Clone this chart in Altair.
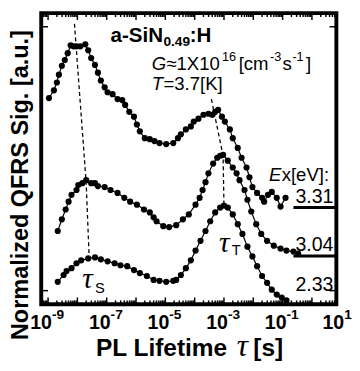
import altair as alt
import pandas as pd

# ---------------- data (log10 of lifetime [s], normalized signal, a.u.) ----------------
ex_labels = ["3.31", "3.04", "2.33"]

logtau_331 = [-8.97, -8.80, -8.70, -8.63, -8.53, -8.43, -8.33, -8.23, -8.13, -8.03, -7.90, -7.73,
              -7.63, -7.53, -7.40, -7.30, -7.20, -7.07, -6.97, -6.80, -6.63, -6.47, -6.37, -6.23,
              -6.07, -5.97, -5.87, -5.70, -5.53, -5.37, -5.20, -4.97, -4.73, -4.57, -4.47, -4.30,
              -4.13, -4.03, -3.87, -3.70, -3.53, -3.40, -3.30, -3.20, -3.07, -2.97, -2.80, -2.70,
              -2.53, -2.40, -2.23, -2.13, -2.03, -1.87, -1.70, -1.63, -1.50, -1.37, -1.20, -1.07, -0.90]
sig_331 = [211, 219, 227, 235, 244, 250, 257, 265, 264, 264, 264, 266,
           260, 252, 245, 237, 229, 222, 217, 215, 210, 209, 204, 197,
           192, 184, 177, 170, 169, 167, 165, 164, 165, 170, 174, 179,
           182, 187, 190, 194, 195, 194, 197, 199, 192, 187, 179, 170,
           160, 150, 140, 130, 120, 114, 109, 105, 112, 115, 109, 100, 109]

logtau_304 = [-8.67, -8.53, -8.40, -8.30, -8.20, -8.03, -7.97, -7.83, -7.70, -7.53, -7.40, -7.30,
              -7.07, -6.87, -6.63, -6.40, -6.20, -5.97, -5.73, -5.53, -5.40, -5.30, -5.07, -4.87,
              -4.63, -4.40, -4.20, -3.97, -3.83, -3.73, -3.63, -3.53, -3.37, -3.23, -3.13, -3.03,
              -2.87, -2.70, -2.57, -2.47, -2.30, -2.20, -2.07, -1.90, -1.73, -1.53, -1.30, -1.07,
              -0.87, -0.63, -0.47]
sig_304 = [75, 87, 97, 105, 112, 117, 122, 124, 127, 124, 124, 121,
           120, 117, 114, 109, 105, 102, 97, 94, 89, 85, 80, 79,
           81, 87, 92, 102, 109, 117, 125, 134, 144, 150, 152, 153,
           147, 140, 134, 127, 117, 107, 95, 82, 72, 65, 60, 57,
           55, 54, 52]

logtau_233 = [-8.67, -8.47, -8.37, -8.20, -8.03, -7.87, -7.63, -7.40, -7.20, -6.97, -6.73, -6.53,
              -6.30, -6.07, -5.87, -5.63, -5.40, -5.20, -4.97, -4.73, -4.63, -4.47, -4.30, -4.13,
              -3.97, -3.80, -3.63, -3.47, -3.30, -3.13, -3.00, -2.87, -2.70, -2.53, -2.37, -2.20,
              -2.03, -1.87, -1.70, -1.53, -1.37, -1.20, -1.03, -0.87]
sig_233 = [23, 30, 34, 37, 42, 45, 47, 48, 46, 44, 42, 40,
           39, 35, 32, 29, 25, 24, 23, 24, 25, 30, 37, 45,
           55, 65, 75, 85, 94, 99, 101, 99, 92, 82, 72, 59,
           49, 39, 29, 22, 15, 10, 7, 4]

# baselines (zero level) of the offset curves
baseline_sig = [99, 49.5]
baseline_start = -0.63

# dashed guide lines through the peaks
tauS_log = [-8.10, -7.70, -7.60]
tauS_sig = [287, 124, 49]
tauT_log = [-3.43, -3.03, -3.00]
tauT_sig = [210, 152, 100]

x_tick_exps = [-9, -7, -5, -3, -1, 1]
x_tick_sup = ["-9", "-7", "-5", "-3", "-1", "1"]

X_MIN, X_MAX = 10 ** -9.2333, 10 ** 0.8333
Y_MIN, Y_MAX = 0, 298

# ---------------- tables ----------------
rows = []
for lab, lt, sg in [("3.31", logtau_331, sig_331), ("3.04", logtau_304, sig_304), ("2.33", logtau_233, sig_233)]:
    for i, (a, b) in enumerate(zip(lt, sg)):
        rows.append({"ex": lab, "tau": 10 ** a, "sig": b, "i": i})
curves = pd.DataFrame(rows)

dash_rows = []
for name, lt, sg in [("S", tauS_log, tauS_sig), ("T", tauT_log, tauT_sig)]:
    for i, (a, b) in enumerate(zip(lt, sg)):
        dash_rows.append({"g": name, "tau": 10 ** a, "sig": b, "i": i})
dashes = pd.DataFrame(dash_rows)

base_df = pd.DataFrame({"tau": [10 ** baseline_start] * 2, "tau2": [X_MAX] * 2, "sig": baseline_sig})

major = [10.0 ** e for e in range(-9, 1)]
minor = [m * 10.0 ** e for e in range(-10, 1) for m in range(2, 10) if X_MIN <= m * 10.0 ** e <= X_MAX]
ticks_df = pd.DataFrame({"tau": major + minor, "len": [7] * len(major) + [4] * len(minor)})
ticks_df["b0"] = Y_MIN
ticks_df["b1"] = Y_MIN + ticks_df["len"]
ticks_df["t0"] = Y_MAX
ticks_df["t1"] = Y_MAX - ticks_df["len"]

lab_df = pd.DataFrame({"tau": [10.0 ** e for e in x_tick_exps], "e": x_tick_exps,
                       "base": ["10"] * len(x_tick_exps), "sup": x_tick_sup})

xs = alt.Scale(type="log", domain=[X_MIN, X_MAX])
ys = alt.Scale(domain=[Y_MIN, Y_MAX])
X = lambda f="tau": alt.X(f"{f}:Q", scale=xs, axis=None)
Y = lambda f="sig": alt.Y(f"{f}:Q", scale=ys, axis=None)

SANS = "Liberation Sans"
SERIF = "Liberation Serif"

lines = alt.Chart(curves).mark_line(color="black", strokeWidth=1.2).encode(
    x=X(), y=Y(), detail="ex:N", order="i:Q")
pts = alt.Chart(curves).mark_circle(color="black", size=40, opacity=1).encode(x=X(), y=Y())
dash = alt.Chart(dashes).mark_line(color="black", strokeWidth=1.3, strokeDash=[4, 3]).encode(
    x=X(), y=Y(), detail="g:N", order="i:Q")
base = alt.Chart(base_df).mark_rule(color="black", strokeWidth=3).encode(
    x=X(), x2="tau2:Q", y=Y())
tb = alt.Chart(ticks_df).mark_rule(color="black", strokeWidth=1.5).encode(x=X(), y=Y("b0"), y2="b1:Q")
tt = alt.Chart(ticks_df).mark_rule(color="black", strokeWidth=1.5).encode(x=X(), y=Y("t0"), y2="t1:Q")
yt_df = pd.DataFrame({"sig": [14, 284]})
ytl = alt.Chart(yt_df).mark_rule(color="black", strokeWidth=1.5).encode(
    y=Y(), x=alt.value(0), x2=alt.value(7))
ytr = alt.Chart(yt_df).mark_rule(color="black", strokeWidth=1.5).encode(
    y=Y(), x=alt.value(295), x2=alt.value(302))


def ticklabels(filt, dx):
    src = alt.Chart(lab_df).transform_filter(filt)
    a = src.mark_text(font=SANS, fontSize=20, fontWeight="bold", align="right",
                      baseline="alphabetic", dx=dx).encode(x=X(), y=alt.value(323), text="base:N")
    b = src.mark_text(font=SANS, fontSize=14, fontWeight="bold", align="left",
                      baseline="alphabetic", dx=dx).encode(x=X(), y=alt.value(313), text="sup:N")
    return [a, b]


tick_text = ticklabels("datum.e < 0", 4) + ticklabels("datum.e > 0", 3)


def txt(s, x, y, size, bold=False, italic=False, font=SANS, align="left", angle=0, baseline="alphabetic"):
    kw = dict(font=font, fontSize=size, align=align, baseline=baseline, color="black")
    if bold:
        kw["fontWeight"] = "bold"
    if italic:
        kw["fontStyle"] = "italic"
    if angle:
        kw["angle"] = angle
    return alt.Chart(pd.DataFrame({"t": [s]})).mark_text(**kw).encode(
        x=alt.value(x - 42), y=alt.value(y - 9), text="t:N")


L2, L3 = 67, 88
FS = 19
texts = [
    txt("a-SiN", 113, 39, 21, bold=True),
    txt("0.49", 167, 43, 14, bold=True),
    txt(":H", 194, 39, 21, bold=True),
    txt("G", 155, L2, FS, italic=True),
    txt("≈1X10", 170, L2, FS),
    txt("16", 227, L2 - 9, 13),
    txt("[cm", 244, L2, FS),
    txt("-3", 276, L2 - 9, 13),
    txt("s", 289, L2, FS),
    txt("-1", 299, L2 - 9, 13),
    txt("]", 313, L2, FS),
    txt("T", 155, L3, FS, italic=True),
    txt("=3.7[K]", 167, L3, FS),
    txt("E", 275, 181, FS, italic=True),
    txt("x[eV]:", 288, 181, FS),
    txt(ex_labels[0], 341, 203, 20, align="right"),
    txt(ex_labels[1], 341, 252, 20, align="right"),
    txt(ex_labels[2], 341, 293, 20, align="right"),
    txt("τ", 84, 290, 30, italic=True, font=SERIF),
    txt("S", 97, 295, 15),
    txt("τ", 224, 253, 30, italic=True, font=SERIF),
    txt("T", 237, 257, 15),
    txt("PL Lifetime", 98, 360, 25, bold=True),
    txt("τ", 242, 360, 32, italic=True, font=SERIF),
    txt("[s]", 259, 360, 25, bold=True),
    txt("Normalized QFRS Sig. [a.u.]", 21, 185, 24, bold=True, align="center", angle=270, baseline="middle"),
]

chart = alt.layer(base, tb, tt, ytl, ytr, dash, lines, pts, *tick_text, *texts).properties(
    width=302, height=298,
    autosize=alt.AutoSizeParams(type="none"),
    padding={"left": 34, "top": 1, "right": 16, "bottom": 63},
).configure_view(stroke="black", strokeWidth=4)

chart.save("out.html", embed_options={"renderer": "svg", "actions": False})
